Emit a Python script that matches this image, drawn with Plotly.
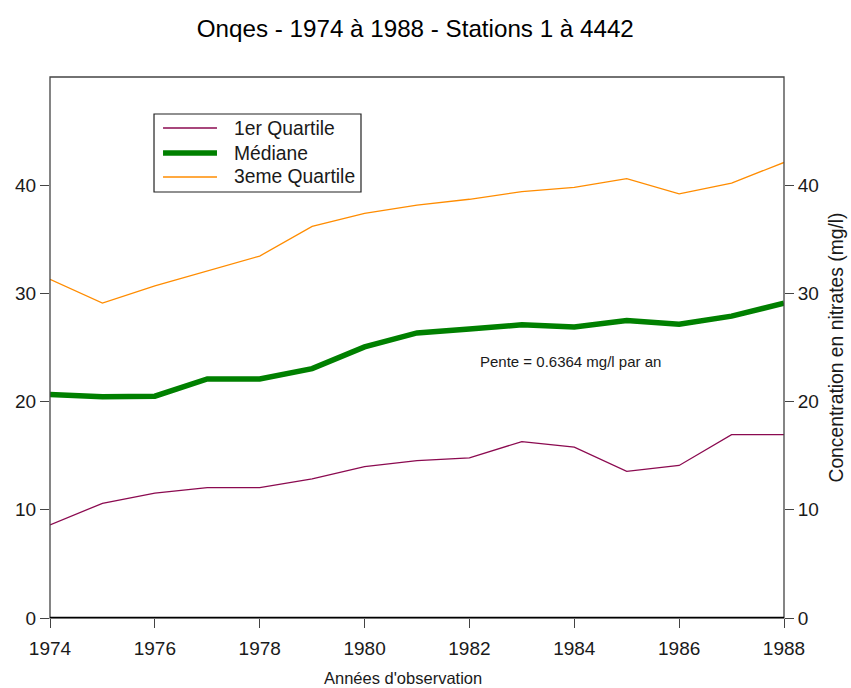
import plotly.graph_objects as go

years = list(range(1974, 1989))
q1 = [8.6, 10.6, 11.55, 12.05, 12.05, 12.85, 14.0, 14.55, 14.8, 16.3, 15.8, 13.55, 14.1, 16.95, 16.95]
median = [20.65, 20.45, 20.5, 22.1, 22.1, 23.05, 25.05, 26.35, 26.7, 27.1, 26.9, 27.5, 27.15, 27.9, 29.1]
q3 = [31.3, 29.1, 30.7, 32.1, 33.45, 36.2, 37.4, 38.15, 38.7, 39.4, 39.8, 40.6, 39.2, 40.2, 42.1]

series_names = ["1er Quartile", "Médiane", "3eme Quartile"]
series_colors = ["#8B0A50", "#008000", "#FF8C00"]
series_widths = [1.3, 5.5, 1.3]
x_ticks = list(range(1974, 1989, 2))
y_ticks = [0, 10, 20, 30, 40]

title_text = "Onqes - 1974 à 1988 - Stations 1 à 4442"
x_title = "Années d'observation"
y_title = "Concentration en nitrates (mg/l)"
slope_text = "Pente = 0.6364 mg/l par an"
slope_pos = (1983.92, 23.7)

FONT = "Liberation Sans, Arial, sans-serif"
TXT = "#1a1a1a"

fig = go.Figure()
for name, vals, col, w in zip(series_names, [q1, median, q3], series_colors, series_widths):
    fig.add_trace(go.Scatter(x=years, y=vals, mode="lines", name=name,
                             line=dict(color=col, width=w), showlegend=False))
# invisible trace to activate right axis
fig.add_trace(go.Scatter(x=[years[0]], y=[0], yaxis="y2", mode="lines",
                         showlegend=False, hoverinfo="skip",
                         line=dict(color="rgba(0,0,0,0)")))

fig.add_annotation(x=slope_pos[0], y=slope_pos[1], text=slope_text, showarrow=False,
                   font=dict(family=FONT, size=15, color=TXT))

# x axis title (slightly left of center, as in the original)
fig.add_annotation(xref="paper", yref="paper", x=0.481, y=-0.111, text=x_title,
                   showarrow=False, xanchor="center", yanchor="middle",
                   font=dict(family=FONT, size=16.5, color=TXT))

# plot frame and zero line
fig.add_shape(type="rect", xref="paper", yref="paper", x0=0, x1=1, y0=0, y1=1,
              line=dict(color="#444", width=1.3), layer="above")
fig.add_shape(type="line", xref="paper", yref="y", x0=0, x1=1, y0=0, y1=0,
              line=dict(color="black", width=2.5), layer="above")

# manual legend box (paper coordinates)
leg_x0, leg_x1, leg_y0, leg_y1 = 0.1417, 0.4237, 0.7874, 0.9316
fig.add_shape(type="rect", xref="paper", yref="paper", x0=leg_x0, x1=leg_x1, y0=leg_y0, y1=leg_y1,
              line=dict(color="#222", width=1.2), fillcolor="white", layer="above")
row_y = [0.9057, 0.8595, 0.8152]
for name, col, w, ry in zip(series_names, series_colors, series_widths, row_y):
    fig.add_shape(type="line", xref="paper", yref="paper", x0=0.1540, x1=0.2275, y0=ry, y1=ry,
                  line=dict(color=col, width=w), layer="above")
    fig.add_annotation(xref="paper", yref="paper", x=0.2480, y=ry, text=name, showarrow=False,
                       xanchor="left", yanchor="middle",
                       font=dict(family=FONT, size=19.3, color=TXT))

axis_common = dict(showgrid=False, zeroline=False, ticks="outside", ticklen=9,
                   tickcolor="#444", tickwidth=1.2, automargin=False,
                   tickfont=dict(family=FONT, size=19, color=TXT))

fig.update_layout(
    width=851, height=688,
    margin=dict(l=50, r=67, t=77, b=70),
    paper_bgcolor="white", plot_bgcolor="white",
    title=dict(text=title_text, x=0.488, xanchor="center", y=0.959, yanchor="middle",
               font=dict(family=FONT, size=24.2, color="black")),
    xaxis=dict(range=[1974, 1988], tickvals=x_ticks, showline=False,
               ticklabelstandoff=4, **axis_common),
    yaxis=dict(range=[0, 50], tickvals=y_ticks, showline=False, **axis_common),
    yaxis2=dict(range=[0, 50], tickvals=y_ticks, overlaying="y", side="right", showline=False,
                title=dict(text=y_title, font=dict(family=FONT, size=19.3, color=TXT), standoff=11),
                **axis_common),
    showlegend=False,
)

fig.write_html("out.html", config={"displayModeBar": False},
               post_script="document.body.style.margin='0';document.body.style.overflow='hidden';")
